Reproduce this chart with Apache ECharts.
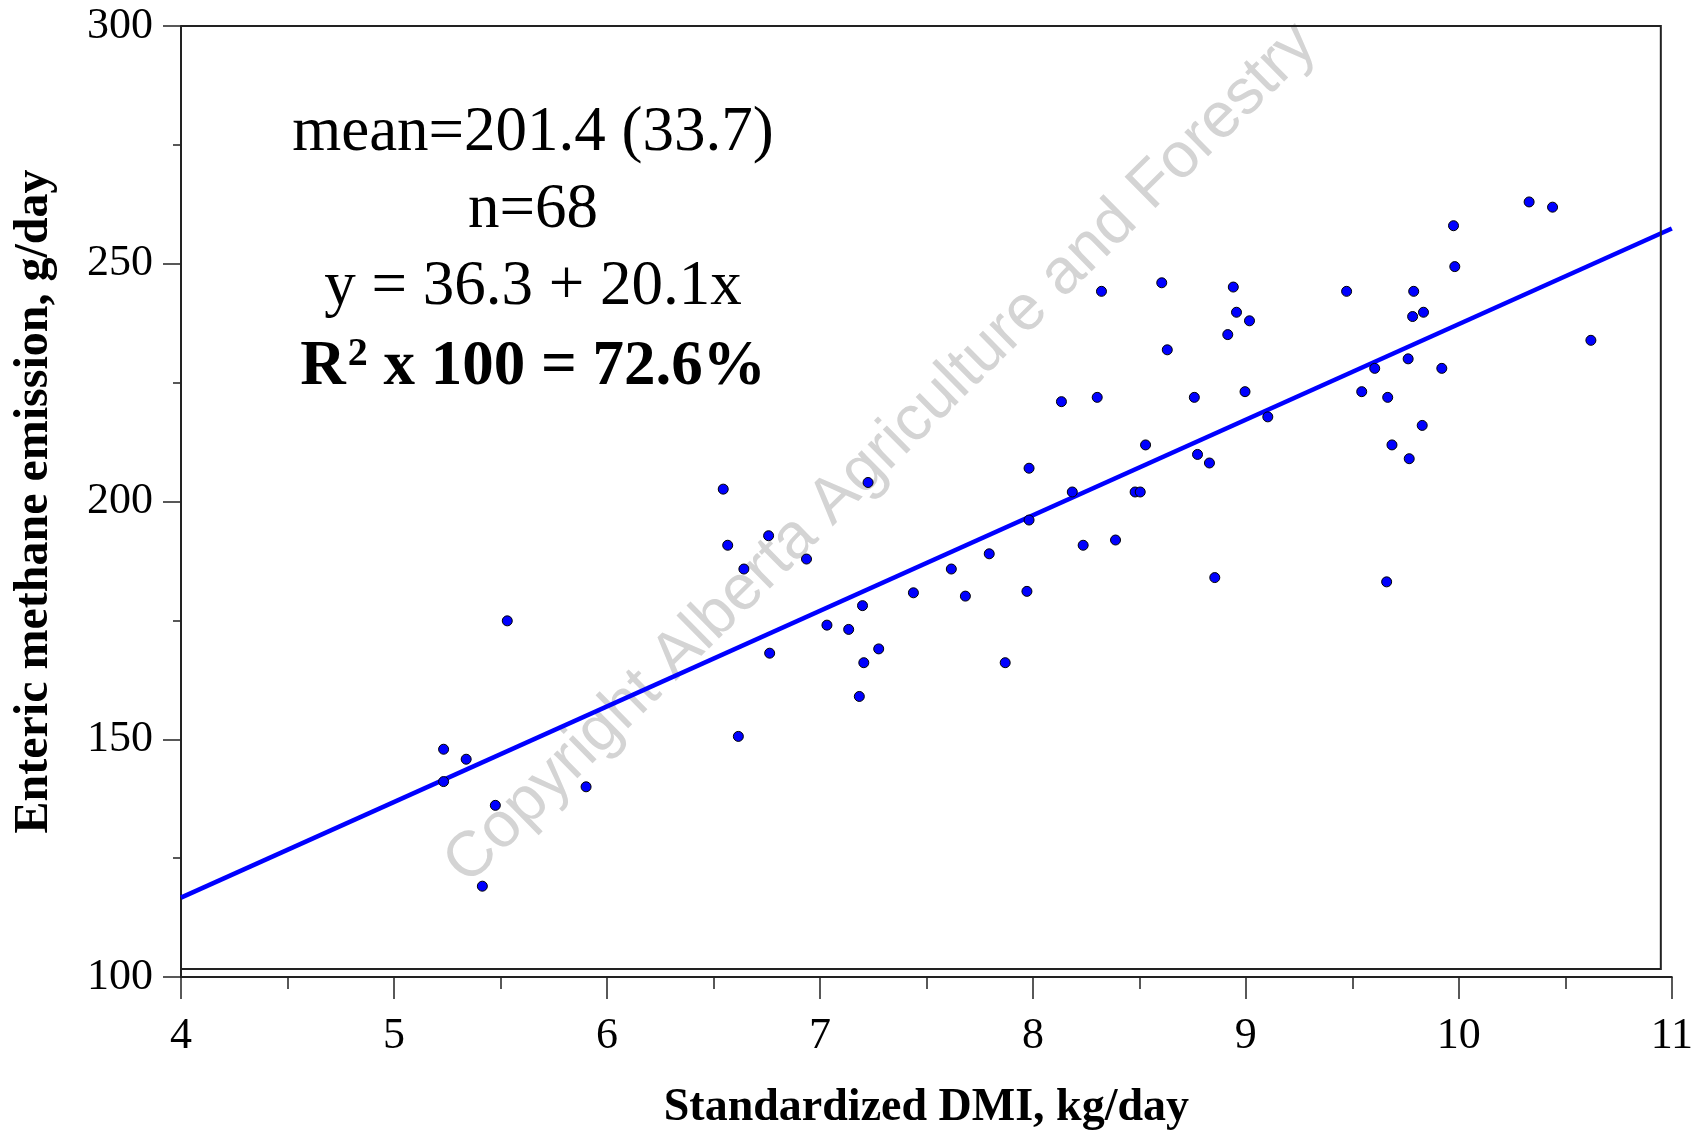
<!DOCTYPE html>
<html>
<head>
<meta charset="utf-8">
<script src="https://cdn.jsdelivr.net/npm/echarts@6/dist/echarts.min.js"></script>
<style>
html,body{margin:0;padding:0;background:#fff;}
#chart{width:1696px;height:1136px;}
</style>
</head>
<body>
<div id="chart"></div>
<script>
// Standardized DMI, kg/day
const dmi = [5.233, 5.233, 5.339, 5.476, 5.415, 5.532, 5.902, 6.546, 6.567, 6.643,
  6.617, 6.759, 6.764, 6.937, 7.033, 7.135, 7.200, 7.206, 7.185, 7.226,
  7.276, 7.439, 7.617, 7.683, 7.795, 7.870, 7.972, 7.982, 7.982, 8.134,
  8.185, 8.236, 8.302, 8.322, 8.388, 8.480, 8.504, 8.529, 8.605, 8.631,
  8.758, 8.773, 8.829, 8.854, 8.915, 8.941, 8.956, 8.996, 9.017, 9.103,
  9.473, 9.544, 9.605, 9.666, 9.661, 9.686, 9.762, 9.767, 9.783, 9.788,
  9.834, 9.828, 9.920, 9.981, 9.975, 10.33, 10.44, 10.62];
// Enteric methane emission, g/day
const methane = [147.9, 141.1, 145.8, 136.1, 119.1, 174.9, 140.0, 202.6, 190.8, 185.8,
  150.6, 192.8, 168.1, 187.9, 174.0, 173.1, 178.1, 166.1, 159.0, 204.0,
  169.0, 180.8, 185.8, 180.1, 189.0, 166.1, 181.1, 207.0, 196.1, 221.0,
  202.0, 190.8, 221.9, 244.2, 191.9, 202.0, 202.0, 211.9, 246.0, 231.9,
  221.9, 209.9, 208.1, 184.0, 235.1, 245.1, 239.8, 223.1, 238.0, 217.8,
  244.2, 223.1, 228.0, 221.9, 183.1, 211.9, 230.0, 209.0, 238.9, 244.2,
  239.8, 216.0, 228.0, 249.4, 258.0, 263.0, 261.9, 233.9];
// fitted line endpoints (y = 36.3 + 20.1x)
const fitX = [4, 11];
const fitY = [116.7, 257.4];
const annotations = ['mean=201.4 (33.7)', 'n=68', 'y = 36.3 + 20.1x', '{r|R}{s|2}{r| x 100 = 72.6%}'];
const watermark = 'Copyright Alberta Agriculture and Forestry';
const xTitle = 'Standardized DMI, kg/day';
const yTitle = 'Enteric methane emission, g/day';

const chart = echarts.init(document.getElementById('chart'), null, {renderer: 'canvas'});
const serif = 'Liberation Serif';
const axisColor = '#222';

const option = {
  animation: false,
  backgroundColor: '#fff',
  grid: {left: 181, right: 23, top: 26, bottom: 157, containLabel: false},
  xAxis: {
    type: 'value', min: 4, max: 11, interval: 1,
    name: xTitle, nameLocation: 'middle', nameGap: 108,
    nameTextStyle: {fontFamily: serif, fontWeight: 'bold', fontSize: 46, color: '#000'},
    axisLine: {show: true, onZero: false, lineStyle: {color: axisColor, width: 2}},
    axisTick: {show: true, length: 22, lineStyle: {color: axisColor, width: 1.5}},
    minorTick: {show: true, splitNumber: 2, length: 12, lineStyle: {color: axisColor, width: 1.5}},
    axisLabel: {fontFamily: serif, fontSize: 44, color: '#000', margin: 37},
    splitLine: {show: false}
  },
  yAxis: {
    type: 'value', min: 100, max: 300, interval: 50,
    name: yTitle, nameLocation: 'middle', nameGap: 122, nameRotate: 90,
    nameTextStyle: {fontFamily: serif, fontWeight: 'bold', fontSize: 48, color: '#000'},
    axisLine: {show: true, onZero: false, lineStyle: {color: axisColor, width: 2}},
    axisTick: {show: true, length: 18, lineStyle: {color: axisColor, width: 1.5}},
    minorTick: {show: true, splitNumber: 2, length: 8, lineStyle: {color: axisColor, width: 1.5}},
    axisLabel: {fontFamily: serif, fontSize: 44, color: '#000', margin: 28},
    splitLine: {show: false}
  },
  series: [
    {
      type: 'line', data: fitX.map((x, i) => [x, fitY[i]]),
      showSymbol: false, symbol: 'none', z: 3,
      lineStyle: {color: '#0000ff', width: 4.5}
    },
    {
      type: 'scatter', data: dmi.map((x, i) => [x, methane[i]]),
      symbol: 'circle', symbolSize: 10, z: 5,
      itemStyle: {color: '#0000ff', borderColor: '#000', borderWidth: 1, opacity: 1}
    }
  ]
};
chart.setOption(option);

const pLT = chart.convertToPixel({gridIndex: 0}, [4, 300]);
const pRB = chart.convertToPixel({gridIndex: 0}, [11, 100]);
const boxRight = pRB[0] - 11;
const boxBottom = pRB[1] - 8;
const lineGap = 77;
const annoTop = 133;
const annoX = 533;
const annoSize = 63;

const graphics = [
  {
    type: 'text', z: 1, x: 881, y: 454, rotation: 44.6 * Math.PI / 180,
    style: {text: watermark, fontFamily: 'Liberation Sans', fontSize: 64,
      fill: '#d4d4d4', align: 'center', verticalAlign: 'middle'}
  },
  {
    type: 'polyline', z: 10, silent: true,
    shape: {points: [[pLT[0], pLT[1]], [boxRight, pLT[1]], [boxRight, boxBottom], [pLT[0], boxBottom]]},
    style: {stroke: axisColor, lineWidth: 2, fill: null}
  }
];
annotations.forEach((t, i) => {
  const bold = i === 3;
  const st = {text: t, fontFamily: serif, fontSize: annoSize, fontWeight: bold ? 'bold' : 'normal',
      fill: '#000', align: 'center', verticalAlign: 'middle'};
  if (bold) {
    st.rich = {
      r: {fontFamily: serif, fontSize: annoSize, fontWeight: 'bold', fill: '#000', lineHeight: 70, verticalAlign: 'bottom'},
      s: {fontFamily: serif, fontSize: 40, fontWeight: 'bold', fill: '#000', lineHeight: 70, verticalAlign: 'top', padding: [6, 0, 0, 2]}
    };
  }
  graphics.push({type: 'text', z: 20, x: annoX, y: annoTop + i * lineGap, style: st});
});
chart.setOption({graphic: graphics});
</script>
</body>
</html>
